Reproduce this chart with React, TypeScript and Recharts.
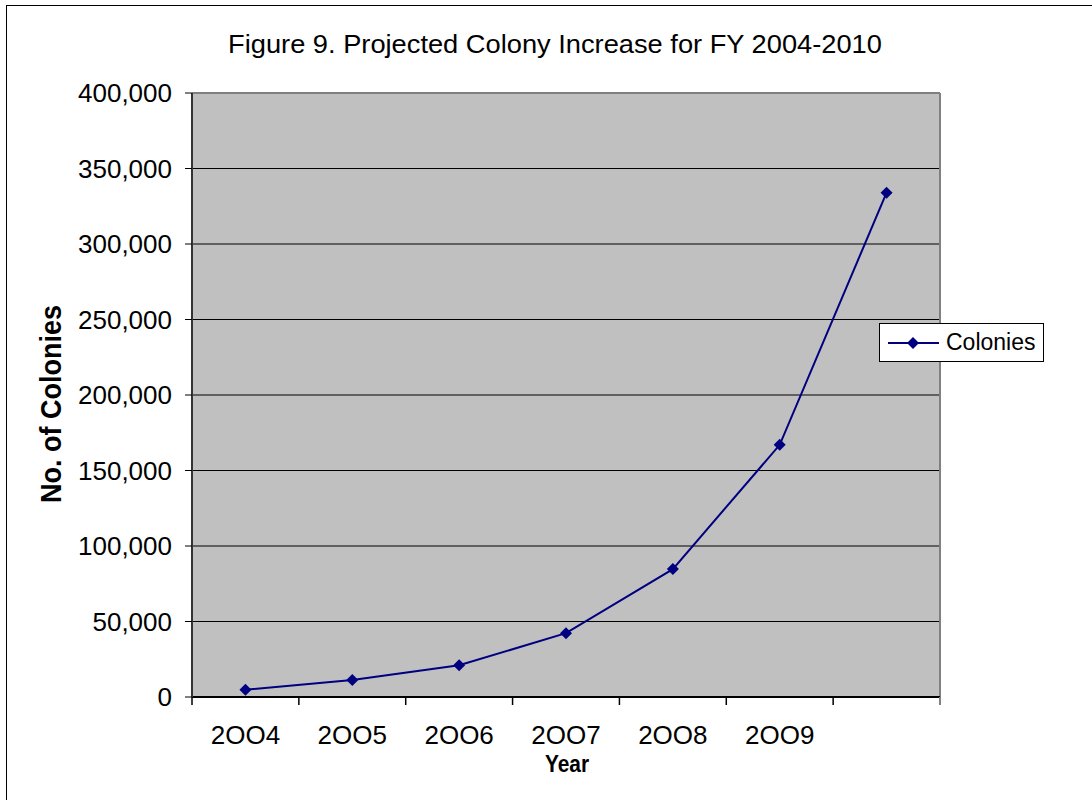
import React from "react";
import {
  CartesianGrid,
  Legend,
  Line,
  LineChart,
  ReferenceLine,
  XAxis,
  YAxis,
} from "recharts";

const years = ["2004", "2005", "2006", "2007", "2008", "2009", "2010"];
// labels as printed on the axis; the last band carries no label
const yearLabels = ["2OO4", "2OO5", "2OO6", "2OO7", "2OO8", "2OO9", ""];
const colonies = [4800, 11200, 21000, 42300, 84700, 167000, 334000];
const yTicks = [0, 50000, 100000, 150000, 200000, 250000, 300000, 350000, 400000];

const data = years.map((year, i) => ({ year, colonies: colonies[i] }));

const W = 1092;
const H = 800;
const PLOT = { left: 192, top: 93, right: 940, bottom: 697 };
const BAND = (PLOT.right - PLOT.left) / years.length;
const FONT = "'Liberation Sans', Arial, Helvetica, sans-serif";
const NAVY = "#000080";

function YTick({ x, y, payload }: any) {
  return (
    <text
      x={x}
      y={y + 9}
      textAnchor="end"
      fontSize={26}
      fontFamily={FONT}
      fill="#000"
    >
      {Number(payload.value).toLocaleString("en-US")}
    </text>
  );
}

// category label in the middle of the band, tick marks on the band edges
function XTick({ x, y, index }: any) {
  const left = x - BAND / 2;
  const last = index === years.length - 1;
  return (
    <g>
      <line x1={left} x2={left} y1={y} y2={y + 8} stroke="#000" strokeWidth={1.5} />
      {last && (
        <line x1={x + BAND / 2} x2={x + BAND / 2} y1={y} y2={y + 8} stroke="#808080" strokeWidth={2} />
      )}
      <text
        x={x}
        y={y + 47}
        textAnchor="middle"
        fontSize={26}
        fontFamily={FONT}
        fill="#000"
      >
        {yearLabels[index]}
      </text>
    </g>
  );
}

function Diamond({ cx, cy, index }: any) {
  if (cx == null || cy == null) return null;
  const r = 6;
  return (
    <path
      key={index}
      d={`M${cx},${cy - r}L${cx + r},${cy}L${cx},${cy + r}L${cx - r},${cy}Z`}
      fill={NAVY}
    />
  );
}

function ColoniesLegend() {
  return (
    <div
      style={{
        width: 163,
        height: 37,
        border: "1px solid #000",
        background: "#fff",
        display: "flex",
        alignItems: "center",
        fontFamily: FONT,
        fontSize: 23,
        color: "#000",
      }}
    >
      <svg width={66} height={20} style={{ display: "block" }}>
        <line x1={8} x2={59} y1={10} y2={10} stroke={NAVY} strokeWidth={2} />
        <path d="M33,4L39,10L33,16L27,10Z" fill={NAVY} />
      </svg>
      <span>Colonies</span>
    </div>
  );
}

function YearLabel() {
  return (
    <text
      transform="translate(567,772) scale(0.87,1)"
      textAnchor="middle"
      fontSize={24}
      fontWeight="bold"
      fontFamily={FONT}
      fill="#000"
    >
      Year
    </text>
  );
}

function ColoniesLabel() {
  return (
    <text
      transform="translate(61,404) scale(1.12,1) rotate(-90)"
      textAnchor="middle"
      fontSize={27}
      fontWeight="bold"
      fontFamily={FONT}
      fill="#000"
    >
      No. of Colonies
    </text>
  );
}

export default function App() {
  return (
    <div
      style={{
        position: "absolute",
        left: 0,
        top: 0,
        width: W,
        height: H,
        overflow: "hidden",
        background: "#fff",
      }}
    >
      <div
        style={{
          position: "absolute",
          left: 6,
          top: 5,
          width: W + 20,
          height: H + 20,
          border: "1px solid #000",
        }}
      />
      <div
        style={{
          position: "absolute",
          left: 0,
          top: 32,
          width: 1110,
          textAlign: "center",
          fontFamily: FONT,
          fontSize: 25,
          lineHeight: "25px",
          color: "#000",
          transform: "scaleX(1.09)",
          whiteSpace: "nowrap",
        }}
      >
        Figure 9. Projected Colony Increase for FY 2004-2010
      </div>
      <div style={{ position: "absolute", left: 0, top: 0 }}>
        <LineChart
          width={W}
          height={H}
          data={data}
          margin={{ top: PLOT.top, right: W - PLOT.right, bottom: 43, left: 72 }}
        >
          <CartesianGrid
            fill="#C0C0C0"
            fillOpacity={1}
            stroke="#000"
            vertical={false}
          />
          <XAxis
            dataKey="year"
            scale="band"
            height={60}
            interval={0}
            tickLine={false}
            tickSize={0}
            tickMargin={0}
            tick={<XTick />}
            axisLine={{ stroke: "#000", strokeWidth: 2 }}
            label={{ content: <YearLabel /> }}
          />
          <YAxis
            width={120}
            domain={[0, 400000]}
            ticks={yTicks}
            interval={0}
            tickSize={7}
            tickMargin={13}
            tick={<YTick />}
            tickLine={{ stroke: "#000" }}
            axisLine={{ stroke: "#333", strokeWidth: 2 }}
            label={{ content: <ColoniesLabel /> }}
          />
          <ReferenceLine y={400000} stroke="#808080" strokeWidth={2} />
          <ReferenceLine x="2010" position="end" stroke="#808080" strokeWidth={2} />
          <Legend
            layout="vertical"
            align="center"
            verticalAlign="middle"
            wrapperStyle={{ left: 879, top: 323, width: 165 }}
            content={<ColoniesLegend />}
          />
          <Line
            type="linear"
            dataKey="colonies"
            name="Colonies"
            stroke={NAVY}
            strokeWidth={2}
            dot={<Diamond />}
            activeDot={false}
            isAnimationActive={false}
          />
        </LineChart>
      </div>
    </div>
  );
}
